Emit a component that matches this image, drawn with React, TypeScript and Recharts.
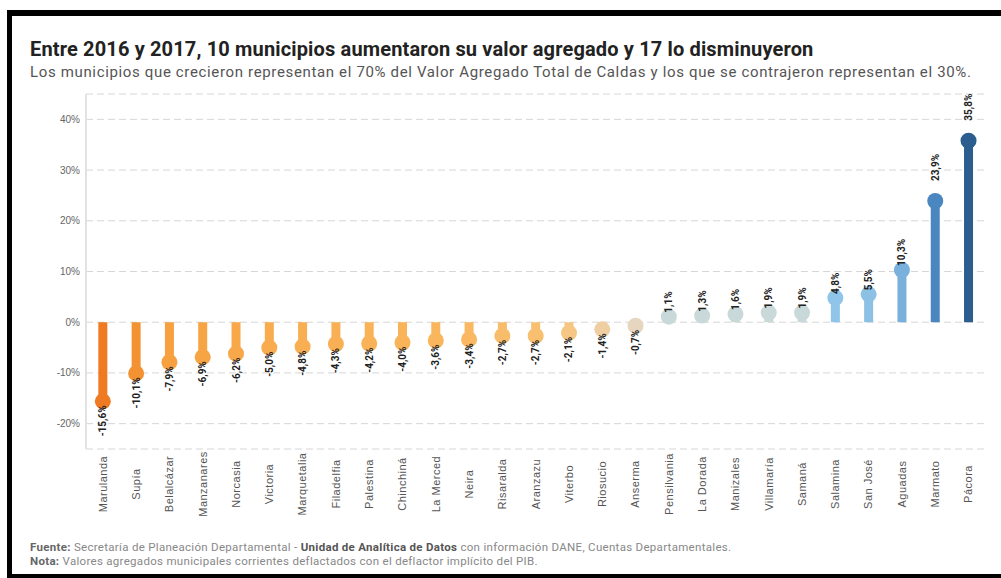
import React from 'react'
import { BarChart, Bar, XAxis, YAxis, CartesianGrid } from 'recharts'

// Variación del valor agregado 2016-2017 por municipio (%)
const municipios = [
  'Marulanda', 'Supía', 'Belalcázar', 'Manzanares', 'Norcasia', 'Victoria',
  'Marquetalia', 'Filadelfia', 'Palestina', 'Chinchiná', 'La Merced', 'Neira',
  'Risaralda', 'Aranzazu', 'Viterbo', 'Riosucio', 'Anserma', 'Pensilvania',
  'La Dorada', 'Manizales', 'Villamaría', 'Samaná', 'Salamina', 'San José',
  'Aguadas', 'Marmato', 'Pácora',
]
const variacion = [
  -15.6, -10.1, -7.9, -6.9, -6.2, -5.0, -4.8, -4.3, -4.2, -4.0, -3.6, -3.4,
  -2.7, -2.7, -2.1, -1.4, -0.7, 1.1, 1.3, 1.6, 1.9, 1.9, 4.8, 5.5, 10.3, 23.9, 35.8,
]
const yTicks = [-20, -10, 0, 10, 20, 30, 40]

const colores = [
  '#ef7a22', '#f39233', '#f6a040', '#f7a445', '#f8a84a', '#f8ac4f',
  '#f8ae52', '#f9b055', '#f9b257', '#f9b45a', '#f9b65d', '#f9b861',
  '#f8bd6a', '#f8bf6e', '#f5c684', '#efcfa2', '#e6d6c0', '#c9d9d9',
  '#c9d9d9', '#c9d9d9', '#c9d9d9', '#c9d9d9', '#8ec5e8', '#8cc0e4',
  '#7ab0dc', '#4a86c0', '#2b5d8e',
]

const data = municipios.map((m, i) => ({ municipio: m, valor: variacion[i] }))

const fmt = (v: number) => `${v.toFixed(1).replace('.', ',')}%`

const Lollipop = (props: any) => {
  const { x, y, width, height, index } = props
  const v = variacion[index]
  const cx = x + width / 2
  const top = Math.min(y, y + height)
  const bottom = Math.max(y, y + height)
  const end = v >= 0 ? top : bottom
  const color = colores[index]
  // the two tallest labels sit a bit further from the dot in the original
  const gap = v > 20 ? 20 : 4
  const ly = v >= 0 ? end - gap : end + gap
  return (
    <g>
      <rect x={cx - 4.5} y={top} width={9} height={bottom - top} fill={color} />
      <circle cx={cx} cy={end} r={8} fill={color} />
      <text
        x={cx}
        y={ly}
        transform={`rotate(-90, ${cx}, ${ly})`}
        textAnchor={v >= 0 ? 'start' : 'end'}
        dominantBaseline="central"
        fontSize={10}
        fontWeight="bold"
        fontFamily="Roboto, sans-serif"
        fill="#222"
      >
        {fmt(v)}
      </text>
    </g>
  )
}

const XTick = (props: any) => {
  const { x, payload } = props
  return (
    <text
      x={x}
      y={484}
      transform={`rotate(-90, ${x}, 484)`}
      textAnchor="middle"
      dominantBaseline="central"
      fontSize={11}
      letterSpacing={0.5}
      fontFamily="'Liberation Sans', Arial, sans-serif"
      fill="#555"
    >
      {payload.value}
    </text>
  )
}

export default function App() {
  return (
    <div style={{ position: 'absolute', left: 0, top: 0, width: 1001, height: 578, background: '#fff', overflow: 'hidden' }}>
      <div style={{ position: 'absolute', left: 7, top: 10, width: 994, height: 6, background: '#000' }} />
      <div style={{ position: 'absolute', left: 7, top: 10, width: 5, height: 568, background: '#000' }} />
      <div style={{ position: 'absolute', left: 7, top: 574, width: 994, height: 4, background: '#000' }} />

      <div style={{ position: 'absolute', left: 30, top: 37, fontFamily: 'Roboto, sans-serif', fontWeight: 'bold', fontSize: 20, letterSpacing: 0.15, color: '#222', whiteSpace: 'nowrap' }}>
        Entre 2016 y 2017, 10 municipios aumentaron su valor agregado y 17 lo disminuyeron
      </div>
      <div style={{ position: 'absolute', left: 30, top: 63, fontFamily: 'Roboto, sans-serif', fontSize: 15, letterSpacing: 0.65, color: '#555', whiteSpace: 'nowrap' }}>
        Los municipios que crecieron representan el 70% del Valor Agregado Total de Caldas y los que se contrajeron representan el 30%.
      </div>

      <div style={{ position: 'absolute', left: 0, top: 0 }}>
        <BarChart width={1001} height={578} data={data} margin={{ top: 94, right: 16, left: 0, bottom: 0 }}>
          <CartesianGrid vertical={false} stroke="#d6d6d6" strokeDasharray="7 4" />
          <XAxis
            dataKey="municipio"
            interval={0}
            height={129}
            axisLine={false}
            tickLine={false}
            tick={<XTick />}
          />
          <YAxis
            width={86}
            domain={[-25, 45]}
            ticks={yTicks}
            tickFormatter={(v: number) => `${v}%`}
            axisLine={{ stroke: '#e2e2e2', strokeWidth: 2 }}
            tickLine={false}
            tickSize={4}
            tickMargin={2}
            tick={{ fill: '#666', fontSize: 10, fontFamily: "'Liberation Sans', Arial, sans-serif" }}
          />
          <Bar dataKey="valor" shape={<Lollipop />} isAnimationActive={false} />
        </BarChart>
      </div>

      <div style={{ position: 'absolute', left: 30, top: 540, fontFamily: 'Roboto, sans-serif', fontSize: 11.5, letterSpacing: 0.3, color: '#888', lineHeight: '14px', whiteSpace: 'nowrap' }}>
        <div>
          <b style={{ color: '#666' }}>Fuente:</b> Secretaría de Planeación Departamental - <b style={{ color: '#555' }}>Unidad de Analítica de Datos</b> con información DANE, Cuentas Departamentales.
        </div>
        <div>
          <b style={{ color: '#666' }}>Nota:</b> Valores agregados municipales corrientes deflactados con el deflactor implícito del PIB.
        </div>
      </div>
    </div>
  )
}
